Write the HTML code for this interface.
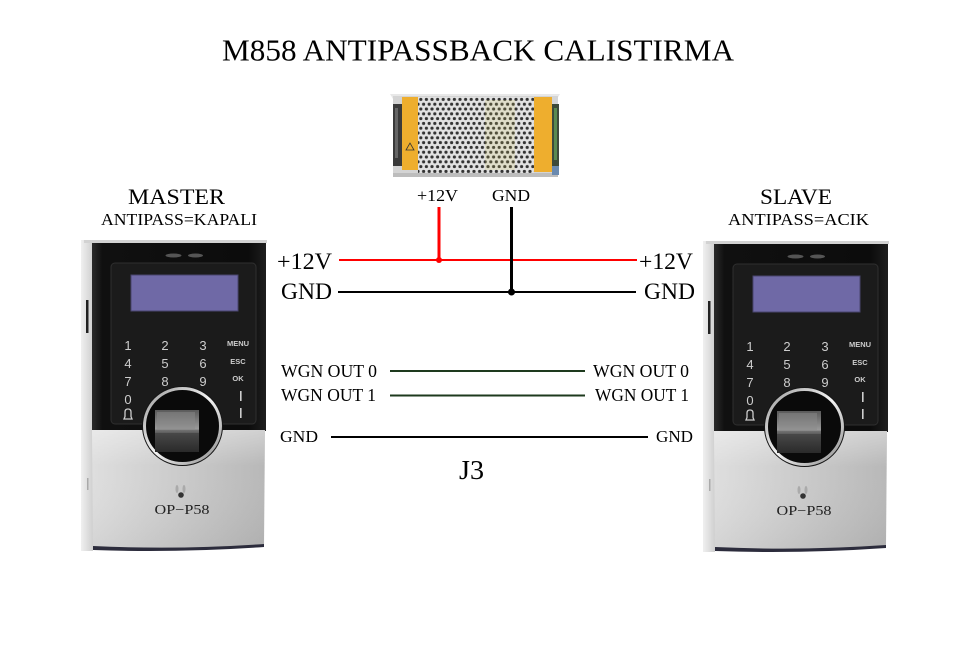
<!DOCTYPE html>
<html>
<head>
<meta charset="utf-8">
<style>
html,body{margin:0;padding:0;background:#fff;}
svg{display:block;}
</style>
</head>
<body>
<svg width="954" height="651" viewBox="0 0 954 651" xmlns="http://www.w3.org/2000/svg">
<defs>
  <linearGradient id="sideG" x1="0" y1="0" x2="1" y2="0">
    <stop offset="0" stop-color="#f0f0f0"/>
    <stop offset="1" stop-color="#cfcfcf"/>
  </linearGradient>
  <linearGradient id="blackG" x1="0" y1="0" x2="1" y2="0">
    <stop offset="0" stop-color="#2a2a2a"/>
    <stop offset="0.06" stop-color="#101010"/>
    <stop offset="0.9" stop-color="#0c0c0c"/>
    <stop offset="1" stop-color="#1e1e1e"/>
  </linearGradient>
  <linearGradient id="grayG" x1="0" y1="0" x2="1" y2="0">
    <stop offset="0" stop-color="#dedede"/>
    <stop offset="0.5" stop-color="#cbcbcb"/>
    <stop offset="1" stop-color="#b8b8b8"/>
  </linearGradient>
  <linearGradient id="grayV" x1="0" y1="0" x2="0" y2="1">
    <stop offset="0" stop-color="#ffffff" stop-opacity="0.35"/>
    <stop offset="0.3" stop-color="#ffffff" stop-opacity="0"/>
    <stop offset="1" stop-color="#000000" stop-opacity="0.05"/>
  </linearGradient>
  <linearGradient id="ringG" x1="0" y1="0" x2="1" y2="1">
    <stop offset="0" stop-color="#9a9a9a"/>
    <stop offset="0.5" stop-color="#f4f4f4"/>
    <stop offset="1" stop-color="#8a8a8a"/>
  </linearGradient>
  <linearGradient id="sensG" x1="0" y1="0" x2="0" y2="1">
    <stop offset="0" stop-color="#5a5a5a"/>
    <stop offset="0.45" stop-color="#9a9a9a"/>
    <stop offset="0.52" stop-color="#4a4a4a"/>
    <stop offset="1" stop-color="#2a2a2a"/>
  </linearGradient>
  <pattern id="holes" x="418" y="97" width="5.6" height="9.6" patternUnits="userSpaceOnUse">
    <rect width="5.6" height="9.6" fill="#e2e2e2"/>
    <circle cx="2.8" cy="2.4" r="1.6" fill="#333"/>
    <circle cx="0" cy="7.2" r="1.6" fill="#333"/>
    <circle cx="5.6" cy="7.2" r="1.6" fill="#333"/>
  </pattern>
</defs>

<rect width="954" height="651" fill="#fff"/>

<!-- Title -->
<text x="222" y="60.5" font-family="Liberation Serif, serif" font-size="31" textLength="512" lengthAdjust="spacingAndGlyphs" fill="#000">M858 ANTIPASSBACK CALISTIRMA</text>

<!-- Power supply -->
<g>
  <polygon points="390,94 560,94 557,99 393,99" fill="#e8e8e8"/>
  <rect x="393" y="96" width="165" height="81" fill="#d4d4d4"/>
  <rect x="418" y="97" width="116" height="76" fill="url(#holes)"/>
  <rect x="485" y="100" width="30" height="70" fill="#d8cc60" opacity="0.18"/>
  <rect x="393" y="104" width="9" height="62" fill="#3a3a3a"/>
  <rect x="395" y="108" width="3" height="50" fill="#666"/>
  <rect x="402" y="97" width="16" height="73" fill="#eeae2e"/>
  <rect x="534" y="97" width="18" height="75" fill="#eeae2e"/>
  <rect x="552" y="104" width="7" height="62" fill="#3d4a3a"/>
  <rect x="554" y="108" width="3" height="52" fill="#5a8a50"/>
  <rect x="393" y="173" width="165" height="4" fill="#bdbdbd"/>
  <rect x="552" y="166" width="7" height="9" fill="#6a8ab0"/>
  <path d="M406,150 l4,-7 l4,7 z" fill="none" stroke="#333" stroke-width="0.8"/>
</g>

<!-- PSU labels -->
<text x="417" y="201" font-family="Liberation Serif, serif" font-size="16.5" textLength="41" lengthAdjust="spacingAndGlyphs" fill="#000">+12V</text>
<text x="492" y="201" font-family="Liberation Serif, serif" font-size="16.5" textLength="38" lengthAdjust="spacingAndGlyphs" fill="#000">GND</text>

<!-- MASTER / SLAVE labels -->
<text x="128" y="204" font-family="Liberation Serif, serif" font-size="22" textLength="97" lengthAdjust="spacingAndGlyphs" fill="#000">MASTER</text>
<text x="101" y="225" font-family="Liberation Serif, serif" font-size="17" textLength="156" lengthAdjust="spacingAndGlyphs" fill="#000">ANTIPASS=KAPALI</text>
<text x="760" y="204" font-family="Liberation Serif, serif" font-size="22" textLength="72" lengthAdjust="spacingAndGlyphs" fill="#000">SLAVE</text>
<text x="728" y="225" font-family="Liberation Serif, serif" font-size="17" textLength="141" lengthAdjust="spacingAndGlyphs" fill="#000">ANTIPASS=ACIK</text>

<!-- Wires -->
<line x1="339" y1="260" x2="637" y2="260" stroke="#ff0000" stroke-width="2"/>
<line x1="439" y1="207" x2="439" y2="260" stroke="#ff0000" stroke-width="3"/>
<circle cx="439" cy="260" r="3" fill="#ff0000"/>
<line x1="338" y1="292" x2="636" y2="292" stroke="#000" stroke-width="2"/>
<line x1="511.5" y1="207" x2="511.5" y2="292" stroke="#000" stroke-width="3"/>
<circle cx="511.5" cy="292" r="3.5" fill="#000"/>

<line x1="390" y1="371" x2="585" y2="371" stroke="#1e3a1e" stroke-width="2"/>
<line x1="390" y1="395.5" x2="585" y2="395.5" stroke="#1e3a1e" stroke-width="2"/>
<line x1="331" y1="437" x2="648" y2="437" stroke="#000" stroke-width="2"/>

<!-- Wire labels -->
<g font-family="Liberation Serif, serif" fill="#000">
  <text x="277" y="269" font-size="23.5" textLength="55" lengthAdjust="spacingAndGlyphs">+12V</text>
  <text x="281" y="299" font-size="23.5" textLength="51" lengthAdjust="spacingAndGlyphs">GND</text>
  <text x="639" y="269" font-size="23.5" textLength="54" lengthAdjust="spacingAndGlyphs">+12V</text>
  <text x="644" y="299" font-size="23.5" textLength="51" lengthAdjust="spacingAndGlyphs">GND</text>

  <text x="281" y="377" font-size="17.5" textLength="96" lengthAdjust="spacingAndGlyphs">WGN OUT 0</text>
  <text x="281" y="401" font-size="17.5" textLength="95" lengthAdjust="spacingAndGlyphs">WGN OUT 1</text>
  <text x="593" y="377" font-size="17.5" textLength="96" lengthAdjust="spacingAndGlyphs">WGN OUT 0</text>
  <text x="595" y="401" font-size="17.5" textLength="94" lengthAdjust="spacingAndGlyphs">WGN OUT 1</text>

  <text x="280" y="442" font-size="17" textLength="38" lengthAdjust="spacingAndGlyphs">GND</text>
  <text x="656" y="442" font-size="17" textLength="37" lengthAdjust="spacingAndGlyphs">GND</text>

  <text x="459" y="479" font-size="27" textLength="25" lengthAdjust="spacingAndGlyphs">J3</text>
</g>

<!-- LEFT DEVICE -->
<g>
  <rect x="81" y="240" width="12" height="311" fill="url(#sideG)"/>
  <rect x="86" y="300" width="2.5" height="33" fill="#222"/>
  <rect x="87" y="478" width="1.5" height="12" fill="#aaa"/>
  <rect x="84" y="240" width="183" height="3" fill="#d2d2d2"/>
  <rect x="92" y="243" width="174" height="188" fill="url(#blackG)"/>
  <path d="M92,430 L265,430 L264,545 Q178,551 93,548 Z" fill="url(#grayG)"/>
  <path d="M92,430 L265,430 L264,545 Q178,551 93,548 Z" fill="url(#grayV)"/>
  <path d="M93,546 Q178,550 264,544 L264,547 Q178,553 93,550 Z" fill="#2c2c3c"/>
  <rect x="111" y="263" width="145" height="161" rx="4" fill="#1b1b1b" stroke="#2f2f2f" stroke-width="1"/>
  <rect x="131" y="275" width="107" height="36" fill="#6f69a6" stroke="#48456e" stroke-width="1"/>
  <ellipse cx="173.5" cy="255.5" rx="8" ry="2" fill="#555"/>
  <ellipse cx="195.5" cy="255.5" rx="7.5" ry="2" fill="#555"/>
  <g font-family="Liberation Sans, sans-serif" font-size="13" fill="#cdcdcd" text-anchor="middle">
    <text x="128" y="350">1</text><text x="165" y="350">2</text><text x="203" y="350">3</text>
    <text x="128" y="368">4</text><text x="165" y="368">5</text><text x="203" y="368">6</text>
    <text x="128" y="386">7</text><text x="165" y="386">8</text><text x="203" y="386">9</text>
    <text x="128" y="404">0</text>
  </g>
  <g font-family="Liberation Sans, sans-serif" font-size="7.5" font-weight="bold" fill="#cdcdcd" text-anchor="middle">
    <text x="238" y="346">MENU</text>
    <text x="238" y="364">ESC</text>
    <text x="238" y="381">OK</text>
  </g>
  <rect x="240" y="391" width="1.6" height="10" fill="#cdcdcd"/>
  <rect x="240" y="408" width="1.6" height="10" fill="#cdcdcd"/>
  <path d="M124,419 L132,419 L131,416.5 L131,412 Q131,409 128,409 Q125,409 125,412 L125,416.5 Z" fill="none" stroke="#cdcdcd" stroke-width="1.3"/>
  <ellipse cx="182.5" cy="426" rx="40.5" ry="40" fill="#151515"/>
  <ellipse cx="182.5" cy="426" rx="38" ry="37.5" fill="#0a0a0a" stroke="url(#ringG)" stroke-width="3"/>
  <rect x="155" y="410" width="44" height="42" fill="url(#sensG)"/>
  <rect x="157" y="412" width="38" height="18" fill="#8a8a8a" opacity="0.5"/>
  <line x1="155" y1="432" x2="199" y2="432" stroke="#777" stroke-width="1"/>
  <g>
    <ellipse cx="177" cy="489" rx="1.5" ry="4" fill="#aaa"/>
    <ellipse cx="184" cy="489" rx="1.5" ry="4" fill="#aaa"/>
    <circle cx="181" cy="495" r="2.8" fill="#333"/>
  </g>
  <text x="182" y="514" font-family="Liberation Serif, serif" font-size="14" text-anchor="middle" textLength="55" lengthAdjust="spacingAndGlyphs" fill="#222">OP−P58</text>
</g>

<!-- RIGHT DEVICE -->
<g transform="translate(622,1)">
  <rect x="81" y="240" width="12" height="311" fill="url(#sideG)"/>
  <rect x="86" y="300" width="2.5" height="33" fill="#222"/>
  <rect x="87" y="478" width="1.5" height="12" fill="#aaa"/>
  <rect x="84" y="240" width="183" height="3" fill="#d2d2d2"/>
  <rect x="92" y="243" width="174" height="188" fill="url(#blackG)"/>
  <path d="M92,430 L265,430 L264,545 Q178,551 93,548 Z" fill="url(#grayG)"/>
  <path d="M92,430 L265,430 L264,545 Q178,551 93,548 Z" fill="url(#grayV)"/>
  <path d="M93,546 Q178,550 264,544 L264,547 Q178,553 93,550 Z" fill="#2c2c3c"/>
  <rect x="111" y="263" width="145" height="161" rx="4" fill="#1b1b1b" stroke="#2f2f2f" stroke-width="1"/>
  <rect x="131" y="275" width="107" height="36" fill="#6f69a6" stroke="#48456e" stroke-width="1"/>
  <ellipse cx="173.5" cy="255.5" rx="8" ry="2" fill="#555"/>
  <ellipse cx="195.5" cy="255.5" rx="7.5" ry="2" fill="#555"/>
  <g font-family="Liberation Sans, sans-serif" font-size="13" fill="#cdcdcd" text-anchor="middle">
    <text x="128" y="350">1</text><text x="165" y="350">2</text><text x="203" y="350">3</text>
    <text x="128" y="368">4</text><text x="165" y="368">5</text><text x="203" y="368">6</text>
    <text x="128" y="386">7</text><text x="165" y="386">8</text><text x="203" y="386">9</text>
    <text x="128" y="404">0</text>
  </g>
  <g font-family="Liberation Sans, sans-serif" font-size="7.5" font-weight="bold" fill="#cdcdcd" text-anchor="middle">
    <text x="238" y="346">MENU</text>
    <text x="238" y="364">ESC</text>
    <text x="238" y="381">OK</text>
  </g>
  <rect x="240" y="391" width="1.6" height="10" fill="#cdcdcd"/>
  <rect x="240" y="408" width="1.6" height="10" fill="#cdcdcd"/>
  <path d="M124,419 L132,419 L131,416.5 L131,412 Q131,409 128,409 Q125,409 125,412 L125,416.5 Z" fill="none" stroke="#cdcdcd" stroke-width="1.3"/>
  <ellipse cx="182.5" cy="426" rx="40.5" ry="40" fill="#151515"/>
  <ellipse cx="182.5" cy="426" rx="38" ry="37.5" fill="#0a0a0a" stroke="url(#ringG)" stroke-width="3"/>
  <rect x="155" y="410" width="44" height="42" fill="url(#sensG)"/>
  <rect x="157" y="412" width="38" height="18" fill="#8a8a8a" opacity="0.5"/>
  <line x1="155" y1="432" x2="199" y2="432" stroke="#777" stroke-width="1"/>
  <g>
    <ellipse cx="177" cy="489" rx="1.5" ry="4" fill="#aaa"/>
    <ellipse cx="184" cy="489" rx="1.5" ry="4" fill="#aaa"/>
    <circle cx="181" cy="495" r="2.8" fill="#333"/>
  </g>
  <text x="182" y="514" font-family="Liberation Serif, serif" font-size="14" text-anchor="middle" textLength="55" lengthAdjust="spacingAndGlyphs" fill="#222">OP−P58</text>
</g>

</svg>
</body>
</html>
